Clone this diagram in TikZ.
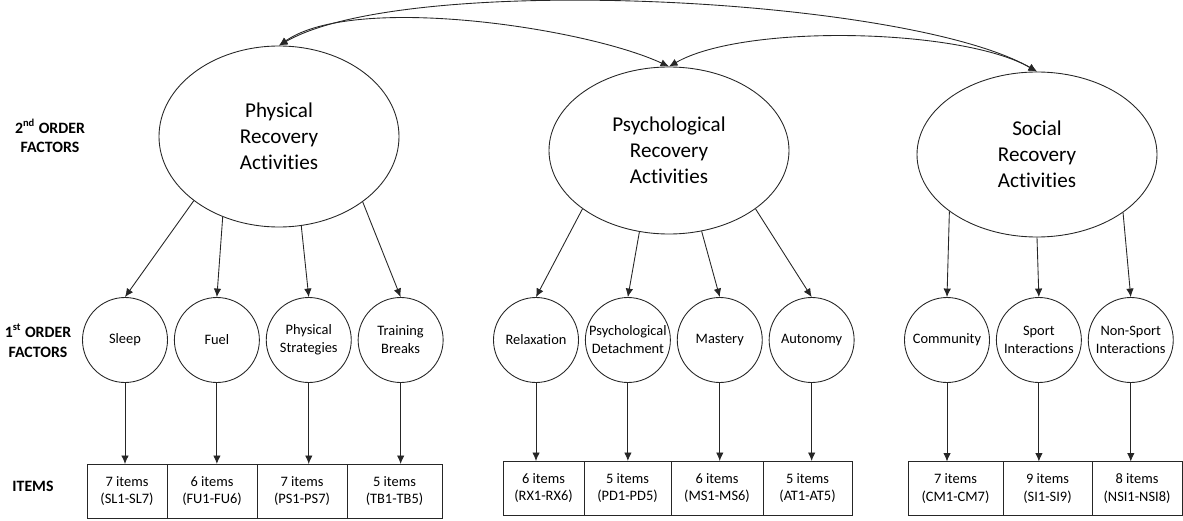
\documentclass[tikz,border=0pt]{standalone}
\usepackage{fontspec}
\setmainfont{Carlito}[Ligatures=NoCommon]
\usetikzlibrary{shapes.geometric, arrows.meta, positioning}
\tikzset{
    factortwo/.style={ellipse, draw=black!85, line width=0.5pt, inner sep=0pt, minimum width=4.8cm, align=center, font=\fontsize{12}{14.8}\selectfont},
    factorone/.style={circle, draw=black!85, line width=0.5pt, inner sep=0pt, minimum size=1.7cm, align=center, font=\fontsize{8.2}{10.2}\selectfont},
    itembox/.style={rectangle, draw=black!85, line width=0.5pt, inner sep=0pt, outer sep=0pt, minimum height=1.08cm, align=center, font=\fontsize{8.2}{10.2}\selectfont},
    level/.style={align=center, font=\fontsize{9}{11.3}\selectfont\bfseries},
    arrow/.style={-{Latex[length=1.7mm, width=1.5mm]}, line width=0.5pt, draw=black!85},
    covarrow/.style={{Latex[length=1.7mm, width=1.5mm]}-{Latex[length=1.7mm, width=1.5mm]}, line width=0.5pt, draw=black!85},
}
\begin{document}
\begin{tikzpicture}[node distance=0.12cm]
    \useasboundingbox (0,0) rectangle (23.66,-10.42);
    % level labels
    \node[level] (lab2) at (1.0,-2.72) {2\textsuperscript{nd} ORDER\\FACTORS};
    \node[level] (lab1) at (0.76,-6.82) {1\textsuperscript{st} ORDER\\FACTORS};
    \node[level] (labi) at (0.66,-9.72) {ITEMS};
    % second order factors
    \node[factortwo, minimum height=3.62cm] (phys) at (5.58,-2.73) {Physical\\Recovery\\Activities};
    \node[factortwo, minimum height=3.34cm] (psy) at (13.38,-3.01) {Psychological\\Recovery\\Activities};
    \node[factortwo, minimum height=3.30cm] (soc) at (20.74,-3.09) {Social\\Recovery\\Activities};
    % first order factors
    \node[factorone] (sleep) at (2.5,-6.8) {Sleep};
    \node[factorone, right=of sleep] (fuel) {Fuel};
    \node[factorone, right=of fuel] (pstr) {Physical\\Strategies};
    \node[factorone, right=of pstr] (tbrk) {Training\\Breaks};
    \node[factorone] (relax) at (10.72,-6.8) {Relaxation};
    \node[factorone, right=of relax] (detach) {Psychological\\Detachment};
    \node[factorone, right=of detach] (mast) {Mastery};
    \node[factorone, right=of mast] (auton) {Autonomy};
    \node[factorone] (comm) at (18.94,-6.8) {Community};
    \node[factorone, right=of comm] (sport) {Sport\\Interactions};
    \node[factorone, right=of sport] (nsport) {Non-Sport\\Interactions};
    % item boxes
    \node[itembox, minimum width=1.6cm, anchor=west] (isl) at (1.74,-9.82) {7 items\\(SL1-SL7)};
    \node[itembox, minimum width=1.8cm, right=0pt of isl] (ifu) {6 items\\(FU1-FU6)};
    \node[itembox, minimum width=1.8cm, right=0pt of ifu] (ips) {7 items\\(PS1-PS7)};
    \node[itembox, minimum width=1.9cm, right=0pt of ips] (itb) {5 items\\(TB1-TB5)};
    \node[itembox, minimum width=1.62cm, anchor=west] (irx) at (10.06,-9.76) {6 items\\(RX1-RX6)};
    \node[itembox, minimum width=1.74cm, right=0pt of irx] (ipd) {5 items\\(PD1-PD5)};
    \node[itembox, minimum width=1.84cm, right=0pt of ipd] (ims) {6 items\\(MS1-MS6)};
    \node[itembox, minimum width=1.78cm, right=0pt of ims] (iat) {5 items\\(AT1-AT5)};
    \node[itembox, minimum width=1.9cm, anchor=west] (icm) at (18.16,-9.77) {7 items\\(CM1-CM7)};
    \node[itembox, minimum width=1.78cm, right=0pt of icm] (isi) {9 items\\(SI1-SI9)};
    \node[itembox, minimum width=1.8cm, right=0pt of isi] (insi) {8 items\\(NSI1-NSI8)};
    % correlations between second order factors
    \draw[covarrow] (phys.north) to[out=30, in=150, looseness=0.5] (soc.north);
    \draw[covarrow] (phys.north) to[out=35, in=155, looseness=0.6] (psy.north);
    \draw[covarrow] (psy.north) to[out=30, in=150, looseness=0.6] (soc.north);
    % loadings
    \draw[arrow] (phys.217) -- (sleep.north);
    \draw[arrow] (phys.235) -- (fuel.north);
    \draw[arrow] (phys.284) -- (pstr.north);
    \draw[arrow] (phys.322) -- (tbrk.north);
    \draw[arrow] (psy.214) -- (relax.north);
    \draw[arrow] (psy.250) -- (detach.north);
    \draw[arrow] (psy.292) -- (mast.north);
    \draw[arrow] (psy.326) -- (auton.north);
    \draw[arrow] (soc.213) -- (comm.north);
    \draw[arrow] (soc.270) -- (sport.north);
    \draw[arrow] (soc.326) -- (nsport.north);
    % items
    \draw[arrow] (sleep.south) -- (sleep.south |- isl.north);
    \draw[arrow] (fuel.south) -- (fuel.south |- ifu.north);
    \draw[arrow] (pstr.south) -- (pstr.south |- ips.north);
    \draw[arrow] (tbrk.south) -- (tbrk.south |- itb.north);
    \draw[arrow] (relax.south) -- (relax.south |- irx.north);
    \draw[arrow] (detach.south) -- (detach.south |- ipd.north);
    \draw[arrow] (mast.south) -- (mast.south |- ims.north);
    \draw[arrow] (auton.south) -- (auton.south |- iat.north);
    \draw[arrow] (comm.south) -- (comm.south |- icm.north);
    \draw[arrow] (sport.south) -- (sport.south |- isi.north);
    \draw[arrow] (nsport.south) -- (nsport.south |- insi.north);
\end{tikzpicture}
\end{document}
